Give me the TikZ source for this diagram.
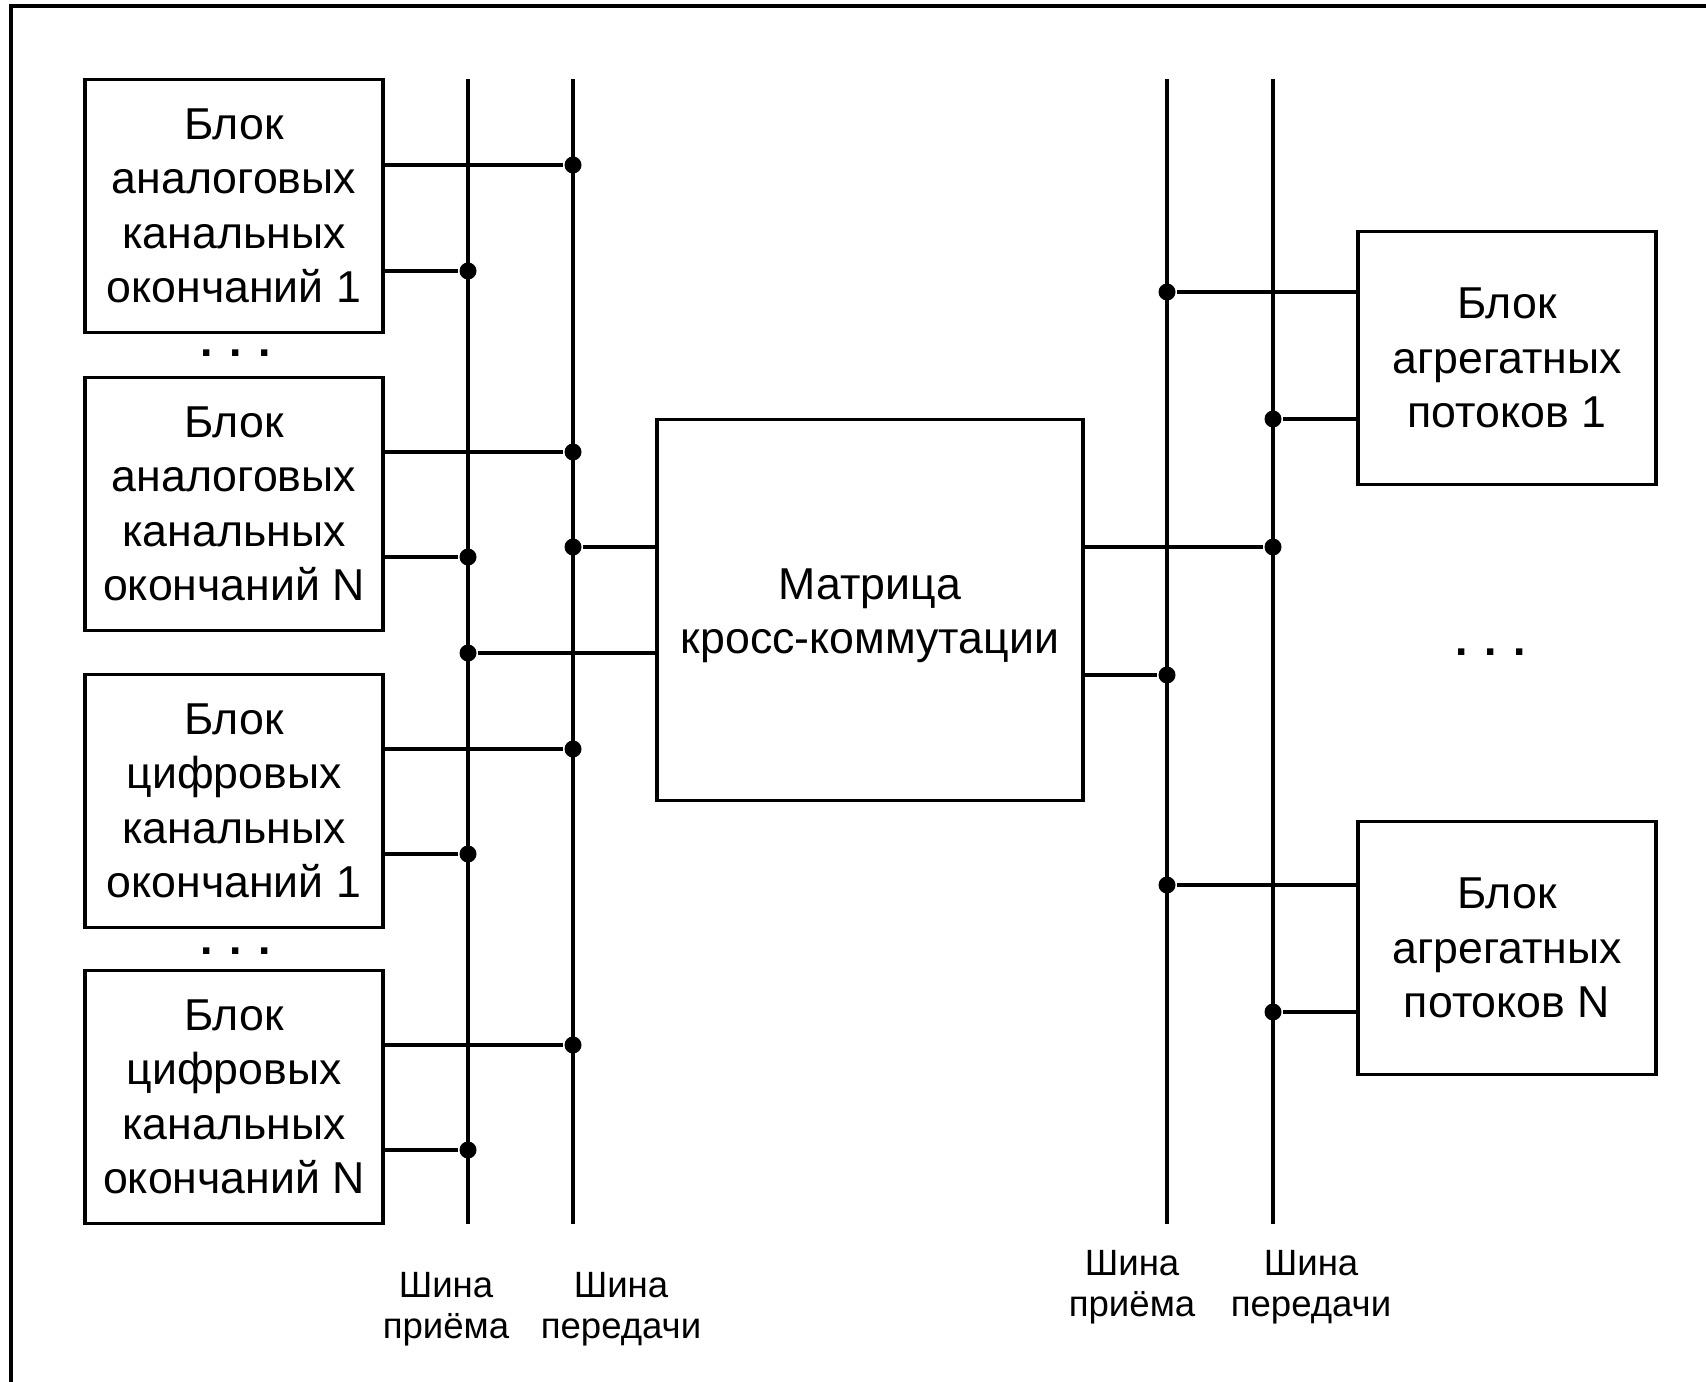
\documentclass[tikz,border=0pt]{standalone}
\usepackage{fontspec}
\setmainfont{Liberation Sans}
\usetikzlibrary{positioning}
\usetikzlibrary{calc}
\tikzstyle{every picture}+=[line width=1pt]
\tikzstyle{block} = [rectangle, draw=black, inner sep=0pt, align=center,
minimum width=2.98cm, minimum height=2.53cm,
font=\fontsize{12.7}{15.5}\selectfont]
\tikzstyle{matrixbox} = [block, minimum width=4.26cm, minimum height=3.81cm]
\tikzstyle{junction} = [circle, fill=black, inner sep=0pt, minimum size=0.17cm]
\tikzstyle{busname} = [align=center, font=\fontsize{10.4}{11.8}\selectfont]
\tikzstyle{more} = [inner sep=0pt, font=\bfseries\fontsize{12.7}{15.5}\selectfont]
\newcommand{\tap}[3]{ %
  % Junction #1 on a bus, wire from it to the side #3 of node #2.
  \draw (#1) -- (#2.#3 |- #1) ;%
}

\begin{document}
\begin{tikzpicture}[x=0.01cm, y=-0.01cm]
    \useasboundingbox (0,0) rectangle (1706,1382);
    \draw (11,1382) -- (11,6) -- (1706,6);
    % channel blocks
    \node[block](an1) at (234,206) {Блок\\аналоговых\\канальных\\окончаний 1};
    \node[block](anN) at (234,504) {Блок\\аналоговых\\канальных\\окончаний N};
    \node[block](dg1) at (234,801) {Блок\\цифровых\\канальных\\окончаний 1};
    \node[block](dgN) at (234,1097) {Блок\\цифровых\\канальных\\окончаний N};
    \node[more](andots) at (236,353) {. . .};
    \node[more](dgdots) at (236,951) {. . .};
    \node[matrixbox](mx) at (870,610) {};
    \node[align=center, font=\fontsize{12.7}{15.5}\selectfont](mx-text) at (870,616) {Матрица\\кросс-коммутации};
    \node[block](ag1) at (1507,358) {Блок\\агрегатных\\потоков 1};
    \node[block](agN) at (1507,948) {Блок\\агрегатных\\потоков N};
    \node[more](agdots) at (1491,652) {. . .};
    % buses
    \coordinate (rxL-top) at (468,79);  \coordinate (rxL-bot) at (468,1224);
    \coordinate (txL-top) at (573,79);  \coordinate (txL-bot) at (573,1224);
    \coordinate (rxR-top) at (1167,79); \coordinate (rxR-bot) at (1167,1224);
    \coordinate (txR-top) at (1273,79); \coordinate (txR-bot) at (1273,1224);
    \foreach \b in {rxL,txL,rxR,txR}
      \draw (\b-top) -- (\b-bot);
    % left side taps
    \foreach \blk/\ty/\ry in {an1/165/271, anN/452/557, dg1/749/854, dgN/1045/1150} {
      \node[junction](\blk-tx) at (573,\ty) {};
      \node[junction](\blk-rx) at (468,\ry) {};
      \tap{\blk-tx}{\blk}{east}
      \tap{\blk-rx}{\blk}{east}
    }
    \node[junction](mx-txL) at (573,547) {};
    \node[junction](mx-rxL) at (468,653) {};
    \tap{mx-txL}{mx}{west}
    \tap{mx-rxL}{mx}{west}
    % right side taps
    \node[junction](mx-txR) at (1273,547) {};
    \node[junction](mx-rxR) at (1167,675) {};
    \tap{mx-txR}{mx}{east}
    \tap{mx-rxR}{mx}{east}
    \foreach \blk/\ry/\ty in {ag1/292/419, agN/885/1012} {
      \node[junction](\blk-rx) at (1167,\ry) {};
      \node[junction](\blk-tx) at (1273,\ty) {};
      \tap{\blk-rx}{\blk}{west}
      \tap{\blk-tx}{\blk}{west}
    }
    % bus names
    \node[busname](rxL-name) at (446,1309) {Шина\\приёма};
    \node[busname](txL-name) at (621,1309) {Шина\\передачи};
    \node[busname](rxR-name) at (1132,1287) {Шина\\приёма};
    \node[busname](txR-name) at (1311,1287) {Шина\\передачи};
\end{tikzpicture}
\end{document}
